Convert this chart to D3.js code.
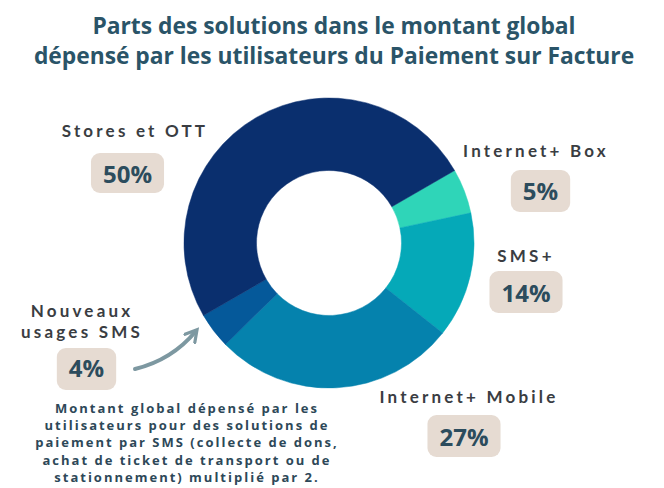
<!DOCTYPE html>
<html>
<head>
<meta charset="utf-8">
<script src="https://cdn.jsdelivr.net/npm/d3@7"></script>
<style>
  body { margin: 0; background: #fff; }
  svg { display: block; }
</style>
</head>
<body>
<script>
// slices in drawing order, clockwise from the Stores/Box boundary
const categories = ["Internet+ Box", "SMS+", "Internet+ Mobile", "Nouveaux usages SMS", "Stores et OTT"];
const shares = [5, 14, 27, 4, 50];
const sliceColors = ["#2fd5b8", "#05a9b8", "#0582ad", "#05599a", "#0a2f6e"];
const titleLines = ["Parts des solutions dans le montant global", "dépensé par les utilisateurs du Paiement sur Facture"];
const noteLines = [
    "Montant global dépensé par les",
    "utilisateurs pour des solutions de",
    "paiement par SMS (collecte de dons,",
    "achat de ticket de transport ou de",
    "stationnement) multiplié par 2."
];

const width = 664, height = 488;
const cx = 329, cy = 243;
const outerR = 145, innerR = 72.5;

// where each label block sits: label lines, baselines, box
const labelLayout = [
    { lines: ["Internet+ Box"], lx: 536, ly: [157], bx: 540.5, by: 170, bh: 42, py: 200 },
    { lines: ["SMS+"], lx: 526, ly: [262], bx: 526, by: 271, bh: 42, py: 302 },
    { lines: ["Internet+ Mobile"], lx: 469, ly: [403], bx: 464, by: 415, bh: 42, py: 446 },
    { lines: ["Nouveaux", "usages SMS"], lx: 82, ly: [317, 338], bx: 86.5, by: 348, bh: 42, py: 377 },
    { lines: ["Stores et OTT"], lx: 135, ly: [137], bx: 127.5, by: 153, bh: 40, py: 183 }
];

const svg = d3.select("body").append("svg")
    .attr("width", width)
    .attr("height", height);

// title
svg.append("g").selectAll("text")
    .data(titleLines)
    .join("text")
    .attr("x", 334)
    .attr("y", (d, i) => 34 + i * 29.5)
    .attr("text-anchor", "middle")
    .attr("font-family", "'Open Sans', sans-serif")
    .attr("font-weight", 700)
    .attr("font-size", 22.8)
    .attr("fill", "#2a5468")
    .text(d => d);

const data = categories.map((c, i) => ({ name: c, value: shares[i], color: sliceColors[i] }));

const start = Math.PI / 3;
const pie = d3.pie().value(d => d.value).sort(null)
    .startAngle(start).endAngle(start + 2 * Math.PI);
const arc = d3.arc().innerRadius(innerR).outerRadius(outerR);

svg.append("g")
    .attr("transform", `translate(${cx},${cy})`)
    .selectAll("path")
    .data(pie(data))
    .join("path")
    .attr("d", arc)
    .attr("fill", d => d.data.color)
    .attr("stroke", d => d.data.color)
    .attr("stroke-width", 0.5);

// labels + percentage boxes
const lg = svg.append("g");
data.forEach((d, i) => {
    const L = labelLayout[i];
    L.lines.forEach((line, j) => {
        lg.append("text")
            .attr("x", L.lx)
            .attr("y", L.ly[j])
            .attr("text-anchor", "middle")
            .attr("font-family", "Lato, sans-serif")
            .attr("font-weight", 700)
            .attr("font-size", 17)
            .attr("letter-spacing", "3.2px")
            .attr("fill", "#3a3d42")
            .text(line);
    });
    const box = lg.append("rect")
        .attr("y", L.by)
        .attr("height", L.bh)
        .attr("rx", 9)
        .attr("fill", "#e6dbd2");
    const pct = lg.append("text")
        .attr("x", L.bx)
        .attr("y", L.py)
        .attr("text-anchor", "middle")
        .attr("font-family", "'Open Sans', sans-serif")
        .attr("font-weight", 700)
        .attr("font-size", 24)
        .attr("fill", "#2c4c5d")
        .text(d.value + "%");
    const w = pct.node().getComputedTextLength() + 24;
    box.attr("x", L.bx - w / 2).attr("width", w);
});

// arrow pointing to the small slice
svg.append("defs").append("marker")
    .attr("id", "head")
    .attr("viewBox", "0 0 10 10")
    .attr("refX", 7)
    .attr("refY", 5)
    .attr("markerWidth", 4)
    .attr("markerHeight", 4)
    .attr("orient", "auto")
    .append("path")
    .attr("d", "M1,1 L8,5 L1,9")
    .attr("fill", "none")
    .attr("stroke", "#7d98a1")
    .attr("stroke-width", 2)
    .attr("stroke-linecap", "round");

svg.append("path")
    .attr("d", "M135,369 Q172,360 196,331")
    .attr("fill", "none")
    .attr("stroke", "#7d98a1")
    .attr("stroke-width", 4)
    .attr("stroke-linecap", "round")
    .attr("marker-end", "url(#head)");

// footnote
svg.append("g").selectAll("text")
    .data(noteLines)
    .join("text")
    .attr("x", 187)
    .attr("y", (d, i) => 413 + i * 17.2)
    .attr("text-anchor", "middle")
    .attr("font-family", "'Open Sans', sans-serif")
    .attr("font-weight", 700)
    .attr("font-size", 13)
    .attr("letter-spacing", "2px")
    .attr("fill", "#2d4858")
    .text(d => d);
</script>
</body>
</html>
